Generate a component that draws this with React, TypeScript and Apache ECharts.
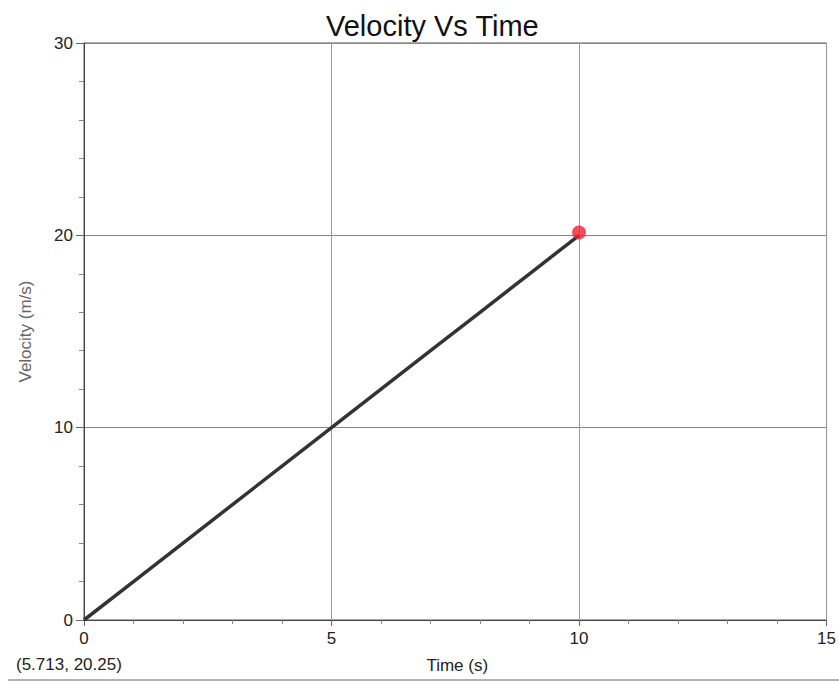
import React, { useEffect, useRef } from "react";
import * as echarts from "echarts";

const timeValues = [0, 1, 2, 3, 4, 5, 6, 7, 8, 9, 10];
const velocityValues = [0, 2, 4, 6, 8, 10, 12, 14, 16, 18, 20];
const markerPoint = [10, 20.15];
const titleText = "Velocity Vs Time";
const xName = "Time (s)";
const yName = "Velocity (m/s)";
const cursorText = "(5.713, 20.25)";

export default function App() {
  const ref = useRef<HTMLDivElement>(null);
  useEffect(() => {
    if (!ref.current) return;
    const chart = echarts.init(ref.current, undefined, { renderer: "svg" });
    const font = "Liberation Sans, Arial, sans-serif";
    chart.setOption({
      animation: false,
      backgroundColor: "#ffffff",
      title: {
        text: titleText,
        left: 321,
        top: 6,
        textStyle: { fontFamily: font, fontSize: 29, fontWeight: "normal", color: "#111" },
      },
      grid: { left: 84, right: 11, top: 43, bottom: 62, show: true, borderColor: "#555", borderWidth: 1 },
      xAxis: {
        type: "value",
        min: 0,
        max: 15,
        interval: 5,
        name: xName,
        nameLocation: "middle",
        nameGap: 37,
        nameTextStyle: { fontFamily: font, fontSize: 17, color: "#222", padding: [0, 0, 0, 4] },
        axisLine: { show: true, lineStyle: { color: "#444", width: 1 } },
        axisTick: { show: true, inside: false, length: 6, lineStyle: { color: "#666" } },
        minorTick: { show: true, splitNumber: 5, length: 4, lineStyle: { color: "#888" } },
        axisLabel: { fontFamily: font, fontSize: 17, color: "#222", margin: 10 },
        splitLine: { show: true, lineStyle: { color: "#999", width: 1 } },
      },
      yAxis: {
        type: "value",
        min: 0,
        max: 30,
        interval: 10,
        name: yName,
        nameLocation: "middle",
        nameGap: 50,
        nameTextStyle: { fontFamily: font, fontSize: 17, color: "#666" },
        axisLine: { show: true, lineStyle: { color: "#444", width: 1 } },
        axisTick: { show: true, inside: false, length: 8, lineStyle: { color: "#666" } },
        minorTick: { show: true, splitNumber: 5, length: 5, lineStyle: { color: "#888" } },
        axisLabel: { fontFamily: font, fontSize: 17, color: "#222", margin: 11 },
        splitLine: { show: true, lineStyle: { color: "#888", width: 1 } },
      },
      series: [
        {
          type: "line",
          data: timeValues.map((t, i) => [t, velocityValues[i]]),
          showSymbol: false,
          lineStyle: { color: "#333", width: 3.5 },
          z: 3,
        },
        {
          type: "scatter",
          data: [markerPoint],
          symbolSize: 14,
          itemStyle: { color: "#f02030" },
          z: 4,
        },
      ],
      graphic: [
        {
          type: "text",
          left: 16,
          top: 656,
          style: { text: cursorText, font: `17px ${font}`, fill: "#222" },
        },
        {
          type: "line",
          shape: { x1: 8, y1: 680, x2: 839, y2: 680 },
          style: { stroke: "#999", lineWidth: 1.5 },
        },
      ],
    });
    return () => chart.dispose();
  }, []);
  return (
    <div
      ref={ref}
      style={{ position: "fixed", left: 0, top: 0, width: 839, height: 682 }}
    />
  );
}
